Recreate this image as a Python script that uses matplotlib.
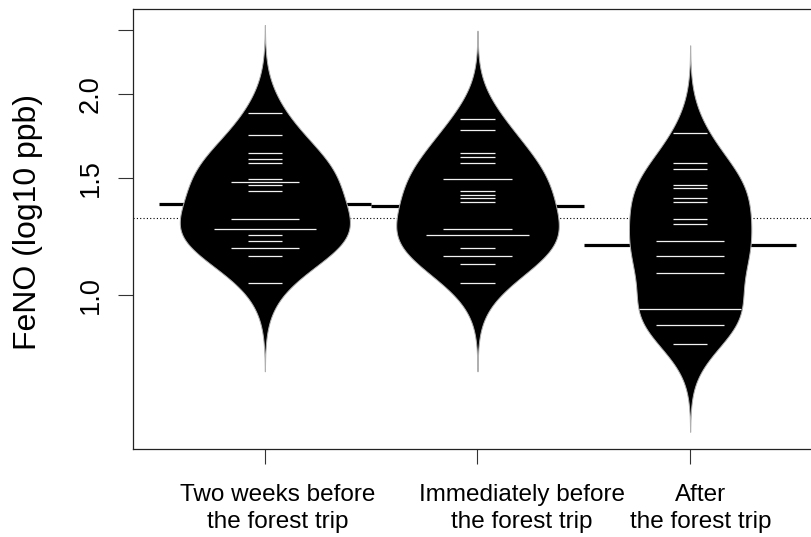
import matplotlib
matplotlib.use("Agg")
import matplotlib.pyplot as plt
import numpy as np

twoWeeksBefore = [75, 55, 43, 40, 38, 31, 30, 30, 29, 27, 20, 20, 18, 18, 18, 17, 16, 15, 15, 14, 11]
immediatelyBefore = [69, 59, 43, 41, 38, 31, 31, 27, 26, 25, 24, 18, 18, 17, 17, 17, 15, 14, 14, 13, 11]
afterTrip = [56, 38, 35, 29, 28, 25, 24, 20, 19, 16, 16, 14, 14, 12, 12, 9, 9, 9, 8, 8, 7]

groupNames = ["Two weeks before\nthe forest trip",
              "Immediately before\nthe forest trip",
              "After\nthe forest trip"]
labelShift = [0.06, 0.21, 0.05]  # labels sit a bit right of their ticks in the original
yTicks = [1.0, 1.5, 2.0, 2.5]
yTickLabels = ["1.0", "1.5", "2.0", ""]

groups = [np.log10(g) for g in [twoWeeksBefore, immediatelyBefore, afterTrip]]
positions = [1, 2, 3]

bw = 0.044      # kernel sd on the log axis
lineLen = 0.16  # rug length per observation


def density(vals, grid):
    t = np.log10(vals)
    z = (grid[:, None] - t[None, :]) / bw
    return np.exp(-0.5 * z ** 2).sum(axis=1) / (len(t) * bw * np.sqrt(2 * np.pi))


plt.rcParams['font.family'] = ['Liberation Sans', 'DejaVu Sans']

fig = plt.figure(figsize=(8.11, 5.37), dpi=100)
ax = fig.add_axes([133 / 811, 88 / 537, 689 / 811, 440 / 537])
ax.set_yscale('log')

grids = []
dens = []
for g in groups:
    t = np.log10(g)
    grid = np.linspace(t.min() - 3 * bw, t.max() + 3 * bw, 512)
    grids.append(grid)
    dens.append(density(g, grid))
scale = 0.4 / max(d.max() for d in dens)

overall = 10 ** np.mean(np.log10(np.concatenate(groups)))
ax.axhline(overall, color='black', lw=0.8, linestyle=(0, (1, 2)), zorder=1)

for pos, g, grid, d in zip(positions, groups, grids, dens):
    gm = 10 ** np.mean(np.log10(g))
    ax.hlines(gm, pos - 0.5, pos + 0.5, color='black', lw=2.3, zorder=2)
    y = 10 ** grid
    ax.fill_betweenx(y, pos - d * scale, pos + d * scale, facecolor='black',
                     edgecolor='#b0b0b0', lw=0.7, zorder=3)
    vals, counts = np.unique(np.round(g, 6), return_counts=True)
    ax.hlines(vals, pos - lineLen / 2 * counts, pos + lineLen / 2 * counts,
              color='#f2f2f2', lw=0.9, zorder=4)

ax.set_xlim(0.38, 3.62)
ax.set_ylim(0.5875, 2.686)
ax.set_yticks(yTicks)
ax.set_yticklabels(yTickLabels, rotation=90, va='center', fontsize=19.5)
ax.yaxis.set_minor_locator(matplotlib.ticker.NullLocator())

# ticks at the beans, labels carried by zero-length minor ticks just to the right
ax.set_xticks(positions)
ax.set_xticklabels([])
ax.set_xticks([p + s for p, s in zip(positions, labelShift)], minor=True)
ax.set_xticklabels(groupNames, minor=True, fontsize=17.5, linespacing=1.25,
                   multialignment='center')
ax.tick_params(axis='x', which='minor', length=0, pad=25.5)

ax.tick_params(axis='both', which='major', length=11, width=0.8, color='#333333')
ax.tick_params(axis='y', pad=10)
for sp in ax.spines.values():
    sp.set_linewidth(0.9)
    sp.set_color('#222222')

ax.set_ylabel("FeNO (log10 ppb)", fontsize=23)
ax.yaxis.set_label_coords(-90 / 689, 0.515)

fig.savefig("out.png", dpi=100)
